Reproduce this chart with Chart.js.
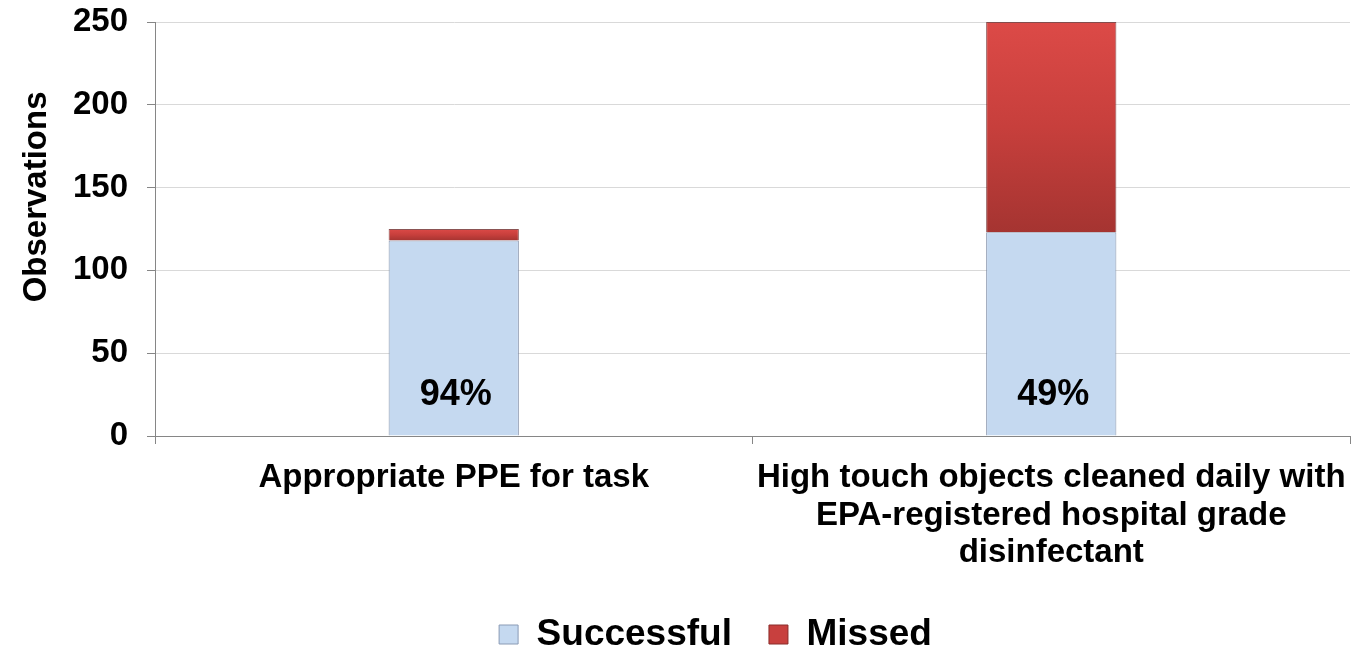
<!DOCTYPE html>
<html>
<head>
<meta charset="utf-8">
<script src="https://cdn.jsdelivr.net/npm/chart.js@4.4.1/dist/chart.umd.min.js"></script>
<style>
  html, body { margin: 0; padding: 0; background: #fff; overflow: hidden; }
  #wrap { width: 1351px; height: 663px; }
</style>
</head>
<body>
<div id="wrap"><canvas id="grafico"></canvas></div>
<script>
const categorias = [
    'Appropriate PPE for task',
    ['High touch objects cleaned daily with', 'EPA-registered hospital grade', 'disinfectant']
];
const sucesso   = [118, 123];
const perdidos  = [7, 127];
const rotulosPct = ['94%', '49%'];
const ticksY    = [0, 50, 100, 150, 200, 250];

const fonte = "'Liberation Sans', Arial, sans-serif";
const azul  = '#c5d9f0';
const vermelho = '#c8403e';

// gradiente vermelho por barra (claro no topo, escuro embaixo)
function corPerdido(ctx) {
    if (ctx.type !== 'data') return vermelho;
    const chart = ctx.chart;
    const y = chart.scales.y;
    if (!y || y.top === undefined) return vermelho;
    const i = ctx.dataIndex;
    const topo = y.getPixelForValue(sucesso[i] + perdidos[i]);
    const base = y.getPixelForValue(sucesso[i]);
    if (!isFinite(topo) || !isFinite(base) || base - topo < 1) return vermelho;
    const g = chart.ctx.createLinearGradient(0, topo, 0, base);
    g.addColorStop(0, '#dc4a47');
    g.addColorStop(0.5, '#c73f3c');
    g.addColorStop(1, '#a53431');
    return g;
}

const rotulosPlugin = {
    id: 'rotulosPct',
    afterDatasetsDraw(chart) {
        const ctx = chart.ctx;
        const meta = chart.getDatasetMeta(0);
        ctx.save();
        ctx.font = 'bold 36px ' + fonte;
        ctx.fillStyle = '#000';
        ctx.textAlign = 'center';
        ctx.textBaseline = 'middle';
        meta.data.forEach((bar, i) => {
            ctx.fillText(rotulosPct[i], bar.x + 2, chart.scales.y.getPixelForValue(24.5));
        });
        ctx.restore();
    }
};

// legenda um pouco deslocada para a direita, como no original
const deslocaLegenda = {
    id: 'deslocaLegenda',
    afterLayout(chart) {
        if (chart.legend) {
            chart.legend.left += 33;
            chart.legend.right += 33;
        }
    }
};

new Chart(document.getElementById('grafico'), {
    type: 'bar',
    data: {
        labels: categorias,
        datasets: [
            {
                label: 'Successful',
                data: sucesso,
                backgroundColor: azul,
                borderColor: 'rgba(125,140,165,0.9)',
                borderWidth: 1,
                barPercentage: 0.218,
                categoryPercentage: 1
            },
            {
                label: 'Missed',
                data: perdidos,
                backgroundColor: corPerdido,
                borderColor: 'rgba(110,40,40,0.8)',
                borderWidth: 1,
                barPercentage: 0.218,
                categoryPercentage: 1
            }
        ]
    },
    options: {
        responsive: true,
        maintainAspectRatio: false,
        animation: false,
        layout: { padding: { top: 22, right: 1, left: 15, bottom: 0 } },
        plugins: {
            legend: {
                position: 'bottom',
                labels: {
                    boxWidth: 19,
                    boxHeight: 19,
                    padding: 37,
                    color: '#000',
                    font: { family: fonte, size: 37, weight: 'bold' },
                    generateLabels(chart) {
                        return chart.data.datasets.map((ds, i) => ({
                            text: ds.label,
                            fillStyle: i === 0 ? azul : vermelho,
                            strokeStyle: i === 0 ? '#8a9bb5' : '#8a2d2b',
                            lineWidth: 1,
                            fontColor: '#000',
                            hidden: false,
                            datasetIndex: i
                        }));
                    }
                }
            },
            tooltip: { enabled: false }
        },
        scales: {
            x: {
                stacked: true,
                afterFit(scale) {
                    scale.height = 143;
                    scale.paddingLeft = 0;
                    scale.paddingRight = 0;
                },
                grid: {
                    offset: true,
                    drawOnChartArea: false,
                    drawTicks: true,
                    tickLength: 8,
                    color: '#868686'
                },
                border: { color: '#868686', width: 1 },
                ticks: {
                    color: '#000',
                    padding: 15,
                    maxRotation: 0,
                    autoSkip: false,
                    font: { family: fonte, size: 33, weight: 'bold', lineHeight: 1.14 }
                }
            },
            y: {
                stacked: true,
                min: 0,
                max: 250,
                afterBuildTicks(axis) {
                    axis.ticks = ticksY.map(v => ({ value: v }));
                },
                afterFit(scale) {
                    scale.width = 140;
                    scale.paddingTop = 0;
                    scale.paddingBottom = 0;
                },
                grid: {
                    color: '#d9d9d9',
                    tickColor: '#868686',
                    tickLength: 8
                },
                border: { color: '#868686', width: 1 },
                ticks: {
                    color: '#000',
                    padding: 19,
                    font: { family: fonte, size: 33, weight: 'bold' }
                },
                title: {
                    display: true,
                    // espaços à frente sobem o texto, como no original
                    text: '       Observations',
                    color: '#000',
                    padding: { top: 2, bottom: 16 },
                    font: { family: fonte, size: 33, weight: 'bold' }
                }
            }
        }
    },
    plugins: [rotulosPlugin, deslocaLegenda]
});
</script>
</body>
</html>
